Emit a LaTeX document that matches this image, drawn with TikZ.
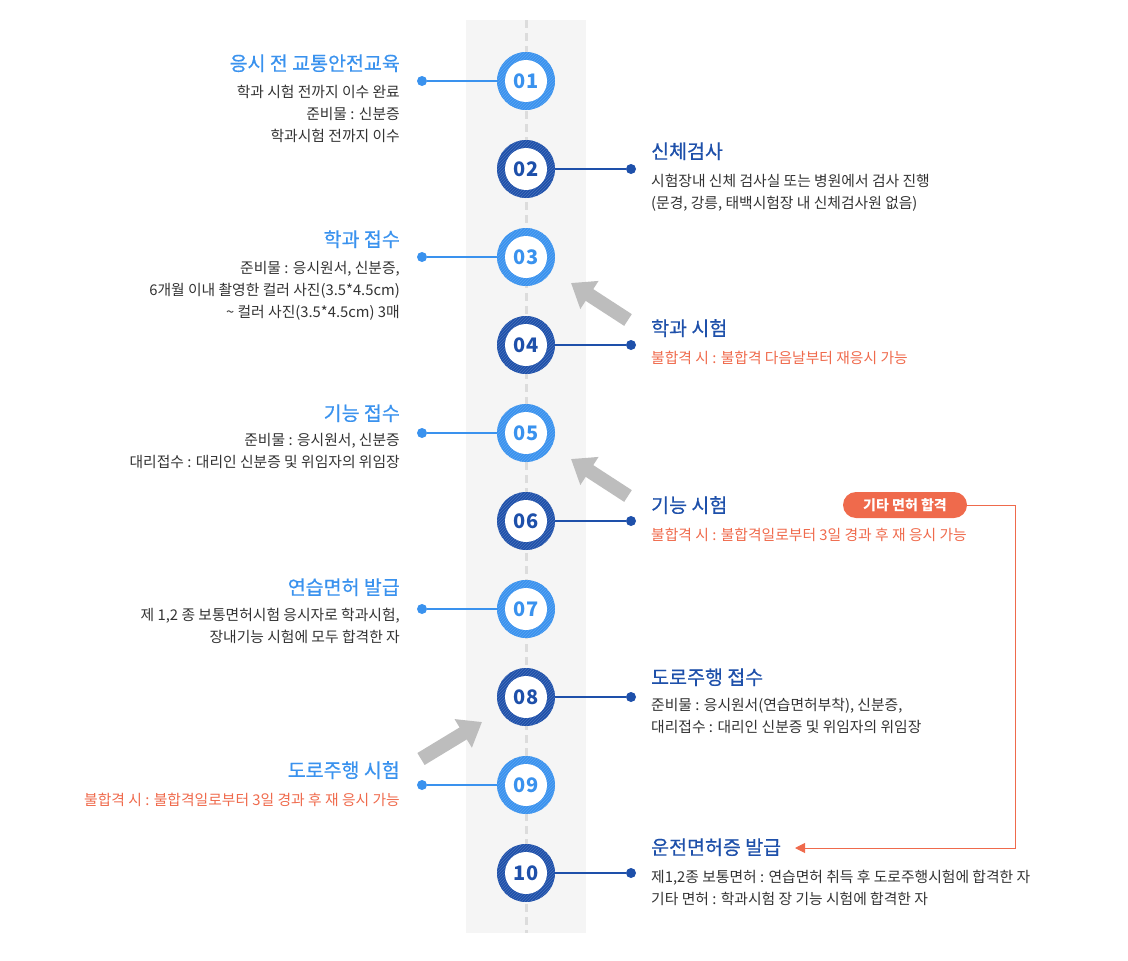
\documentclass[tikz,border=0pt]{standalone}
\usepackage{fontspec}
\setmainfont{Noto Sans CJK KR}
\newfontfamily\titlefont[FakeBold=0.5]{Noto Sans CJK KR}
\usetikzlibrary{arrows.meta, patterns}

\definecolor{stepl}{HTML}{3A92EE}
\definecolor{stepd}{HTML}{1E50AA}
\definecolor{coral}{HTML}{EF6A4C}
\definecolor{textgray}{HTML}{333333}
\definecolor{stripbg}{HTML}{F5F5F5}
\definecolor{dashgray}{HTML}{DCDCDC}
\definecolor{arrowgray}{HTML}{BDBDBD}

\tikzset{
  ringfill/.style={path picture={
    \fill[pattern=north east lines, pattern color=#1]
      (path picture bounding box.south west) rectangle (path picture bounding box.north east);
    \fill[white] (path picture bounding box.center) circle (21);}},
  stepodd/.style={circle, minimum size=58pt, inner sep=0, fill=stepl, ringfill=stepl!82!white,
    text=stepl, font=\fontsize{20}{20}\selectfont\bfseries},
  stepeven/.style={stepodd, fill=stepd, ringfill=stepd!80!white, text=stepd},
  dotl/.style={circle, fill=stepl, inner sep=0, minimum size=10pt},
  dotd/.style={dotl, fill=stepd},
  linel/.style={stepl, line width=1.6pt},
  lined/.style={stepd, line width=1.6pt},
  titlel/.style={anchor=base east, inner sep=0, text=stepl, font=\titlefont\fontsize{19.5}{22}\selectfont},
  titler/.style={anchor=base west, inner sep=0, text=stepd, font=\titlefont\fontsize{19.5}{22}\selectfont},
  bodyl/.style={anchor=north east, align=right, inner sep=0, text=textgray},
  bodyr/.style={anchor=north west, align=left, inner sep=0, text=textgray},
  faill/.style={anchor=base east, inner sep=0, text=coral},
  failr/.style={anchor=base west, inner sep=0, text=coral},
  bigarrow/.style={arrowgray, line width=14pt, -{Triangle[length=22pt,width=32pt]}},
}

\begin{document}
\begin{tikzpicture}[x=1pt,y=-1pt,font=\fontsize{14.8}{22}\selectfont]
\useasboundingbox (0,0) rectangle (1128,961);
% timeline strip
\fill[stripbg] (466,20) rectangle (586,933);
\draw[dashgray, line width=3pt, dash pattern=on 8pt off 5pt] (526,20) -- (526,933);

% steps
\node[stepodd] (s1) at (526,81) {01};
\node[stepeven] (s2) at (526,169) {02};
\node[stepodd] (s3) at (526,257) {03};
\node[stepeven] (s4) at (526,345) {04};
\node[stepodd] (s5) at (526,433) {05};
\node[stepeven] (s6) at (526,521) {06};
\node[stepodd] (s7) at (526,609) {07};
\node[stepeven] (s8) at (526,697) {08};
\node[stepodd] (s9) at (526,785) {09};
\node[stepeven] (s10) at (526,873) {10};

% dots and links
\node[dotl] (d1) at (422,81) {};
\node[dotd] (d2) at (631,169) {};
\node[dotl] (d3) at (422,257) {};
\node[dotd] (d4) at (631,345) {};
\node[dotl] (d5) at (422,433) {};
\node[dotd] (d6) at (631,521) {};
\node[dotl] (d7) at (422,609) {};
\node[dotd] (d8) at (631,697) {};
\node[dotl] (d9) at (422,785) {};
\node[dotd] (d10) at (631,873) {};
\draw[linel] (d1) -- (s1);
\draw[lined] (s2) -- (d2);
\draw[linel] (d3) -- (s3);
\draw[lined] (s4) -- (d4);
\draw[linel] (d5) -- (s5);
\draw[lined] (s6) -- (d6);
\draw[linel] (d7) -- (s7);
\draw[lined] (s8) -- (d8);
\draw[linel] (d9) -- (s9);
\draw[lined] (s10) -- (d10);

% texts
\node[titlel] (t1) at (400,70.5) {응시 전 교통안전교육};
\node[bodyl] (b1) at (400,84.5) {학과 시험 전까지 이수 완료\\준비물 : 신분증\\학과시험 전까지 이수};
\node[titler] (t2) at (651,158.5) {신체검사};
\node[bodyr] (b2) at (651,173.5) {시험장내 신체 검사실 또는 병원에서 검사 진행\\(문경, 강릉, 태백시험장 내 신체검사원 없음)};
\node[titlel] (t3) at (400,246.5) {학과 접수};
\node[bodyl] (b3) at (400,261.5) {준비물 : 응시원서, 신분증,\\6개월 이내 촬영한 컬러 사진(3.5*4.5cm)\\\textasciitilde{} 컬러 사진(3.5*4.5cm) 3매};
\node[titler] (t4) at (651,335.5) {학과 시험};
\node[failr] (b4) at (651,363.5) {불합격 시 : 불합격 다음날부터 재응시 가능};
\node[titlel] (t5) at (400,420.5) {기능 접수};
\node[bodyl] (b5) at (400,433.5) {준비물 : 응시원서, 신분증\\대리접수 : 대리인 신분증 및 위임자의 위임장};
\node[titler] (t6) at (651,512.5) {기능 시험};
\node[failr] (b6) at (651,540.5) {불합격 시 : 불합격일로부터 3일 경과 후 재 응시 가능};
\node[titlel] (t7) at (400,594.5) {연습면허 발급};
\node[bodyl] (b7) at (400,607.5) {제 1,2 종 보통면허시험 응시자로 학과시험,\\장내기능 시험에 모두 합격한 자};
\node[titler] (t8) at (651,684.5) {도로주행 접수};
\node[bodyr] (b8) at (651,698.5) {준비물 : 응시원서(연습면허부착), 신분증,\\대리접수 : 대리인 신분증 및 위임자의 위임장};
\node[titlel] (t9) at (400,777.5) {도로주행 시험};
\node[faill] (b9) at (400,805.5) {불합격 시 : 불합격일로부터 3일 경과 후 재 응시 가능};
\node[titler] (t10) at (651,854.5) {운전면허증 발급};
\node[bodyr] (b10) at (651,869.5) {제1,2종 보통면허 : 연습면허 취득 후 도로주행시험에 합격한 자\\기타 면허 : 학과시험 장 기능 시험에 합격한 자};

% retry arrows
\coordinate (a4s) at (628,320);
\coordinate (a4e) at (571,283);
\coordinate (a6s) at (628,496);
\coordinate (a6e) at (571,459);
\coordinate (a9s) at (421,759);
\coordinate (a9e) at (482,722);
\draw[bigarrow] (a4s) -- (a4e);
\draw[bigarrow] (a6s) -- (a6e);
\draw[bigarrow] (a9s) -- (a9e);

% other licence
\node[fill=coral, text=white, rounded corners=13pt, minimum height=26pt, minimum width=124pt,
  inner xsep=10pt, font=\fontsize{14}{16}\selectfont\bfseries] (badge) at (905,505) {기타 면허 합격};
\coordinate (rc) at (1015,505);
\coordinate (r10) at (795,848);
\draw[coral, line width=1pt, -{Triangle[length=10pt,width=10pt]}] (badge.east) -- (rc) |- (r10);
\end{tikzpicture}
\end{document}
